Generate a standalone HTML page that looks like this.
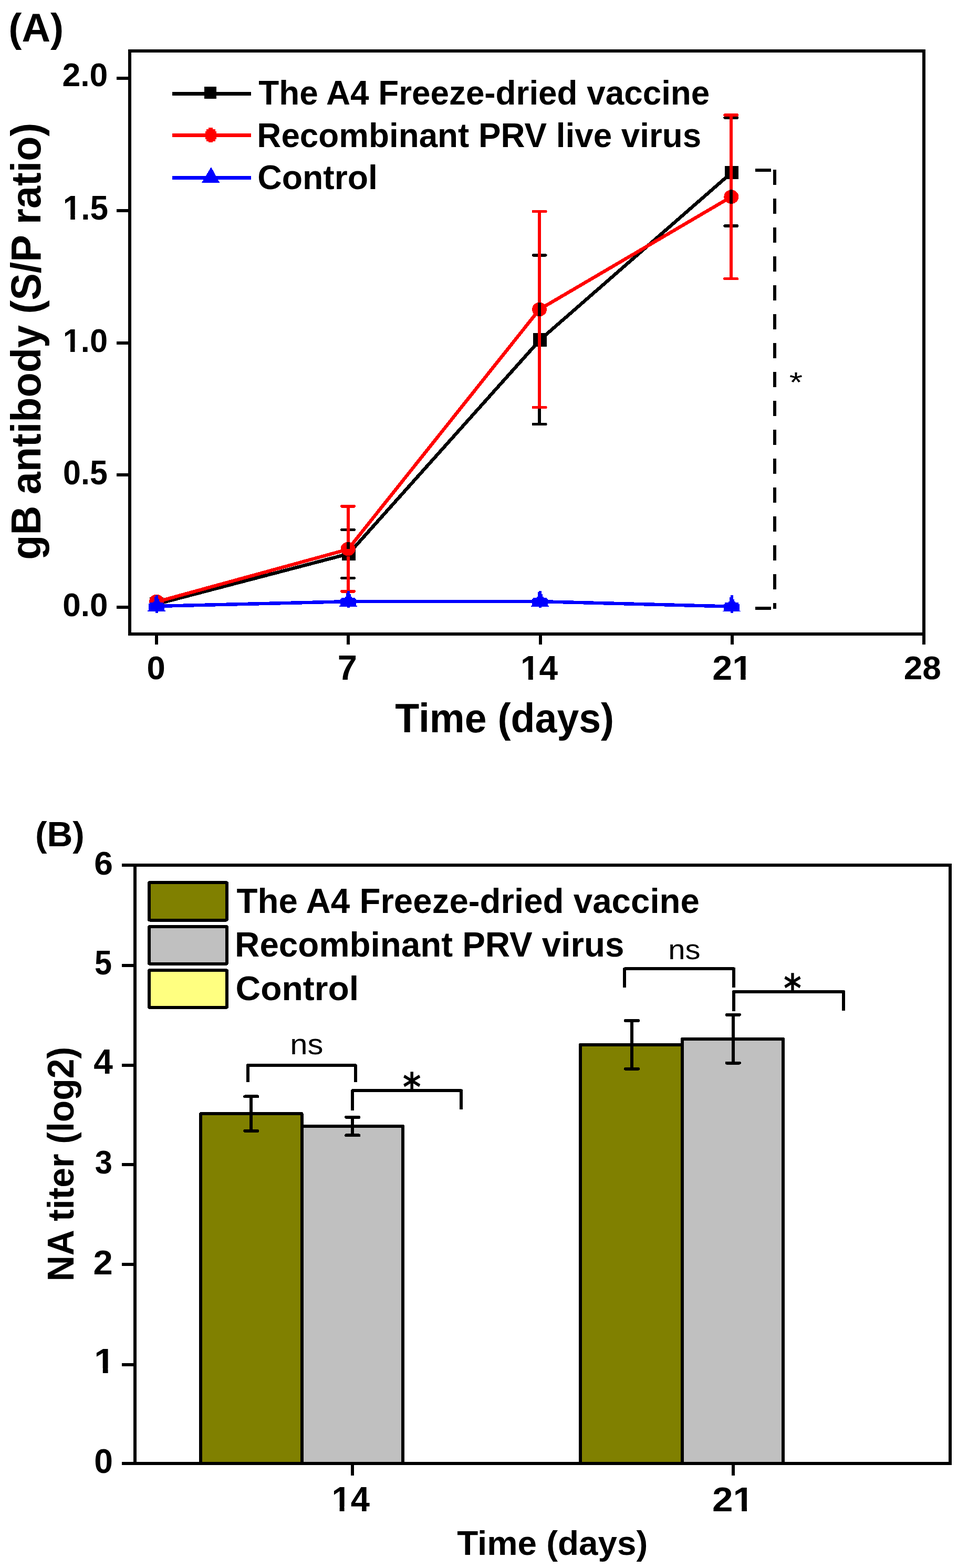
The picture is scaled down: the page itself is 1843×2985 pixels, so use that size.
<!DOCTYPE html>
<html><head><meta charset="utf-8"><title>gB antibody and NA titer</title>
<style>html,body{margin:0;padding:0;background:#fff;} svg{display:block;}</style>
</head><body>
<svg width="1843" height="2985" viewBox="0 0 1843 2985">
<rect width="1843" height="2985" fill="#fff"/>
<g shape-rendering="crispEdges">
<g fill="none" stroke-width="6.5" stroke-linejoin="round">
<polyline stroke="#000" points="298,1150 663.7,1054.3 1028.2,647 1392.9,328.6"/>
<polyline stroke="#f00" points="298,1145.8 662.6,1045.8 1027,589 1392.3,374.7"/>
<polyline stroke="#00f" points="298,1154 663,1145.1 1028,1145.1 1393,1154.6"/>
</g>
<rect x="285.2" y="1137.4" width="25.6" height="25.2" fill="#000"/>
<rect x="650.9" y="1041.7" width="25.6" height="25.2" fill="#000"/>
<rect x="1015.4" y="634.4" width="25.6" height="25.2" fill="#000"/>
<rect x="1380.1" y="316.0" width="25.6" height="25.2" fill="#000"/>
<ellipse cx="298" cy="1145" rx="14" ry="13.3" fill="#f00"/>
<ellipse cx="662.6" cy="1045" rx="14" ry="13.3" fill="#f00"/>
<ellipse cx="1027" cy="589" rx="14" ry="13.3" fill="#f00"/>
<ellipse cx="1392.3" cy="374.7" rx="14" ry="13.3" fill="#f00"/>
<polygon points="281.1,1163.8 281.1,1161.9 283.3,1161.9 283.3,1149.2 285.3,1149.2 285.3,1146.8 292.0,1146.8 292.0,1144.8 294.0,1144.8 294.0,1136.0 296.0,1136.0 296.0,1134.0 300.6,1134.0 300.6,1140.4 302.5,1140.4 302.5,1144.8 305.0,1144.8 305.0,1146.8 310.9,1146.8 310.9,1149.2 312.9,1149.2 312.9,1161.9 315.2,1161.9 315.2,1163.8" fill="#00f"/>
<polygon points="646.1,1154.8 646.1,1152.9 648.3,1152.9 648.3,1140.2 650.3,1140.2 650.3,1137.8 657.0,1137.8 657.0,1135.8 659.0,1135.8 659.0,1127.0 661.0,1127.0 661.0,1125.0 665.6,1125.0 665.6,1131.4 667.5,1131.4 667.5,1135.8 670.0,1135.8 670.0,1137.8 675.9,1137.8 675.9,1140.2 677.9,1140.2 677.9,1152.9 680.2,1152.9 680.2,1154.8" fill="#00f"/>
<polygon points="1011.1,1154.8 1011.1,1152.9 1013.3,1152.9 1013.3,1140.2 1015.3,1140.2 1015.3,1137.8 1022.0,1137.8 1022.0,1135.8 1024.0,1135.8 1024.0,1127.0 1026.0,1127.0 1026.0,1125.0 1030.6,1125.0 1030.6,1131.4 1032.5,1131.4 1032.5,1135.8 1035.0,1135.8 1035.0,1137.8 1040.9,1137.8 1040.9,1140.2 1042.9,1140.2 1042.9,1152.9 1045.2,1152.9 1045.2,1154.8" fill="#00f"/>
<polygon points="1376.1,1164.4 1376.1,1162.5 1378.3,1162.5 1378.3,1149.8 1380.3,1149.8 1380.3,1147.4 1387.0,1147.4 1387.0,1145.4 1389.0,1145.4 1389.0,1136.6 1391.0,1136.6 1391.0,1134.6 1395.6,1134.6 1395.6,1141.0 1397.5,1141.0 1397.5,1145.4 1400.0,1145.4 1400.0,1147.4 1405.9,1147.4 1405.9,1149.8 1407.9,1149.8 1407.9,1162.5 1410.2,1162.5 1410.2,1164.4" fill="#00f"/>
<line x1="662.5" y1="1008.5" x2="662.5" y2="1045" stroke="#000" stroke-width="6"/><line x1="662.5" y1="1064" x2="662.5" y2="1100.4" stroke="#000" stroke-width="6"/><line x1="650.8" y1="1008.5" x2="674.2" y2="1008.5" stroke="#000" stroke-width="5.5" stroke-linecap="round"/><line x1="650.8" y1="1100.4" x2="674.2" y2="1100.4" stroke="#000" stroke-width="5.5" stroke-linecap="round"/>
<line x1="1027.1" y1="485.8" x2="1027.1" y2="637" stroke="#000" stroke-width="6"/><line x1="1027.1" y1="657" x2="1027.1" y2="807.4" stroke="#000" stroke-width="6"/><line x1="1015.3" y1="485.8" x2="1038.8" y2="485.8" stroke="#000" stroke-width="5.5" stroke-linecap="round"/><line x1="1015.3" y1="807.4" x2="1038.8" y2="807.4" stroke="#000" stroke-width="5.5" stroke-linecap="round"/>
<line x1="1391.7" y1="224" x2="1391.7" y2="319" stroke="#000" stroke-width="6"/><line x1="1391.7" y1="338" x2="1391.7" y2="430" stroke="#000" stroke-width="6"/><line x1="1380.0" y1="224" x2="1403.5" y2="224" stroke="#000" stroke-width="5.5" stroke-linecap="round"/><line x1="1380.0" y1="430" x2="1403.5" y2="430" stroke="#000" stroke-width="5.5" stroke-linecap="round"/>
<line x1="662.5" y1="963.8" x2="662.5" y2="1032" stroke="#f00" stroke-width="6"/><line x1="662.5" y1="1058.5" x2="662.5" y2="1125.8" stroke="#f00" stroke-width="6"/><line x1="650.8" y1="963.8" x2="674.2" y2="963.8" stroke="#f00" stroke-width="5.5" stroke-linecap="round"/><line x1="650.8" y1="1125.8" x2="674.2" y2="1125.8" stroke="#f00" stroke-width="5.5" stroke-linecap="round"/>
<line x1="1027.1" y1="402.5" x2="1027.1" y2="575.7" stroke="#f00" stroke-width="6"/><line x1="1027.1" y1="602.3" x2="1027.1" y2="775.3" stroke="#f00" stroke-width="6"/><line x1="1015.3" y1="402.5" x2="1038.8" y2="402.5" stroke="#f00" stroke-width="5.5" stroke-linecap="round"/><line x1="1015.3" y1="775.3" x2="1038.8" y2="775.3" stroke="#f00" stroke-width="5.5" stroke-linecap="round"/>
<line x1="1391.7" y1="219" x2="1391.7" y2="361.4" stroke="#f00" stroke-width="6"/><line x1="1391.7" y1="388" x2="1391.7" y2="530.7" stroke="#f00" stroke-width="6"/><line x1="1380.0" y1="219" x2="1403.5" y2="219" stroke="#f00" stroke-width="5.5" stroke-linecap="round"/><line x1="1380.0" y1="530.7" x2="1403.5" y2="530.7" stroke="#f00" stroke-width="5.5" stroke-linecap="round"/>
<line x1="298" y1="1133" x2="298" y2="1167" stroke="#00f" stroke-width="5"/>
<line x1="663" y1="1125" x2="663" y2="1157" stroke="#00f" stroke-width="5"/>
<line x1="1028" y1="1125" x2="1028" y2="1157" stroke="#00f" stroke-width="5"/>
<line x1="1393" y1="1133" x2="1393" y2="1167" stroke="#00f" stroke-width="5"/>
<line x1="1475" y1="323" x2="1475" y2="1158.6" stroke="#000" stroke-width="6" stroke-dasharray="28.5 26.5"/>
<line x1="1438" y1="323.7" x2="1468" y2="323.7" stroke="#000" stroke-width="6"/>
<line x1="1438" y1="1157.8" x2="1467.6" y2="1157.8" stroke="#000" stroke-width="6"/>
<g stroke-width="6.4">
<line x1="327.5" y1="178.5" x2="477.5" y2="178.5" stroke="#000"/>
<line x1="327.5" y1="257.4" x2="477.5" y2="257.4" stroke="#f00"/>
<line x1="327.5" y1="338.4" x2="477.5" y2="338.4" stroke="#00f"/>
</g>
<rect x="388.6" y="164.6" width="23.4" height="23.4" fill="#000"/>
<polygon points="397.1,243.3 405.3,243.3 405.3,246 409.8,246 409.8,250.1 412,250.1 412,264.8 409.8,264.8 409.8,268.6 405.3,268.6 405.3,271.2 397.1,271.2 397.1,268.6 393,268.6 393,264.8 390.6,264.8 390.6,250.1 393,250.1 393,246 397.1,246" fill="#f00"/>
<polygon points="402,318 418.4,348 384,348" fill="#00f"/>
<g stroke="#000" stroke-width="6" fill="none">
<rect x="247" y="97" width="1512" height="1110"/>
<line x1="222" y1="148.7" x2="247" y2="148.7"/>
<line x1="222" y1="400.7" x2="247" y2="400.7"/>
<line x1="222" y1="652.6" x2="247" y2="652.6"/>
<line x1="222" y1="904" x2="247" y2="904"/>
<line x1="222" y1="1155.7" x2="247" y2="1155.7"/>
<line x1="298" y1="1207" x2="298" y2="1227"/>
<line x1="662.7" y1="1207" x2="662.7" y2="1227"/>
<line x1="1029.2" y1="1207" x2="1029.2" y2="1227"/>
<line x1="1393.6" y1="1207" x2="1393.6" y2="1227"/>
<line x1="1758.5" y1="1207" x2="1758.5" y2="1227"/>
</g>
<g stroke="#000" stroke-width="6" stroke-linejoin="round">
<rect x="382.2" y="2120.3" width="192.4" height="665.3" fill="#808000"/>
<rect x="574.6" y="2144" width="192.6" height="641.6" fill="#c0c0c0"/>
<rect x="1104.7" y="1988.8" width="194.6" height="796.8" fill="#808000"/>
<rect x="1299.3" y="1977.8" width="191.7" height="807.8" fill="#c0c0c0"/>
</g>
<line x1="478.3" y1="2087.4" x2="478.3" y2="2152.9" stroke="#000" stroke-width="6"/><line x1="466.3" y1="2087.4" x2="490.3" y2="2087.4" stroke="#000" stroke-width="6" stroke-linecap="round"/><line x1="466.3" y1="2152.9" x2="490.3" y2="2152.9" stroke="#000" stroke-width="6" stroke-linecap="round"/>
<line x1="671.2" y1="2126.7" x2="671.2" y2="2161.4" stroke="#000" stroke-width="6"/><line x1="659.2" y1="2126.7" x2="683.2" y2="2126.7" stroke="#000" stroke-width="6" stroke-linecap="round"/><line x1="659.2" y1="2161.4" x2="683.2" y2="2161.4" stroke="#000" stroke-width="6" stroke-linecap="round"/>
<line x1="1203.0" y1="1943" x2="1203.0" y2="2034.7" stroke="#000" stroke-width="6"/><line x1="1191.0" y1="1943" x2="1215.0" y2="1943" stroke="#000" stroke-width="6" stroke-linecap="round"/><line x1="1191.0" y1="2034.7" x2="1215.0" y2="2034.7" stroke="#000" stroke-width="6" stroke-linecap="round"/>
<line x1="1395.7" y1="1931.8" x2="1395.7" y2="2023.6" stroke="#000" stroke-width="6"/><line x1="1383.7" y1="1931.8" x2="1407.7" y2="1931.8" stroke="#000" stroke-width="6" stroke-linecap="round"/><line x1="1383.7" y1="2023.6" x2="1407.7" y2="2023.6" stroke="#000" stroke-width="6" stroke-linecap="round"/>
<g stroke="#000" stroke-width="6" fill="none" stroke-linejoin="round">
<path d="M471.6,2059.5 V2028.1 H676.8 V2059.5"/>
<path d="M671.2,2114.2 V2076.4 H878.4 V2112.1"/>
<path d="M1189.3,1880 V1844.4 H1397.3 V1880"/>
<path d="M1397.3,1925 V1887.8 H1605.9 V1923.5"/>
</g>
<g stroke="#000" stroke-width="6" stroke-linejoin="round">
<rect x="283.5" y="1680" width="148.8" height="71.7" rx="2" fill="#808000"/>
<rect x="283.5" y="1763.7" width="148.8" height="71.1" rx="2" fill="#c0c0c0"/>
<rect x="283.5" y="1847" width="148.8" height="71" rx="2" fill="#ffff80"/>
</g>
<g stroke="#000" stroke-width="6" fill="none">
<rect x="257.2" y="1647" width="1551.8" height="1138.6"/>
<line x1="232" y1="1647" x2="257" y2="1647"/>
<line x1="232" y1="1837.6" x2="257" y2="1837.6"/>
<line x1="232" y1="2028.3" x2="257" y2="2028.3"/>
<line x1="232" y1="2216.5" x2="257" y2="2216.5"/>
<line x1="232" y1="2407" x2="257" y2="2407"/>
<line x1="232" y1="2597.6" x2="257" y2="2597.6"/>
<line x1="232" y1="2785.6" x2="257" y2="2785.6"/>
<line x1="671" y1="2785.6" x2="671" y2="2808.6"/>
<line x1="1395.8" y1="2785.6" x2="1395.8" y2="2808.6"/>
</g>
</g>
<g fill="#000">
<defs><clipPath id="c2"><path clip-rule="evenodd" d="M-500,-500H3000V500H-500Z M-1.465,-13.184H23.340V8H-1.465Z M37.061,-13.184H56.592V8H37.061Z"/></clipPath><clipPath id="c3"><path clip-rule="evenodd" d="M-500,-500H3000V500H-500Z M-1.465,-13.184H23.340V8H-1.465Z M37.061,-13.184H56.592V8H37.061Z"/></clipPath><clipPath id="c8"><path clip-rule="evenodd" d="M-500,-500H3000V500H-500Z M-1.465,-13.184H23.340V8H-1.465Z M37.061,-13.184H56.592V8H37.061Z"/></clipPath><clipPath id="c9"><path clip-rule="evenodd" d="M-500,-500H3000V500H-500Z M54.150,-13.184H78.955V8H54.150Z M92.676,-13.184H112.207V8H92.676Z"/></clipPath><clipPath id="c23"><path clip-rule="evenodd" d="M-500,-500H3000V500H-500Z M-1.465,-13.184H23.340V8H-1.465Z M37.061,-13.184H56.592V8H37.061Z"/></clipPath><clipPath id="c25"><path clip-rule="evenodd" d="M-500,-500H3000V500H-500Z M-1.465,-13.184H23.340V8H-1.465Z M37.061,-13.184H56.592V8H37.061Z"/></clipPath><clipPath id="c26"><path clip-rule="evenodd" d="M-500,-500H3000V500H-500Z M54.150,-13.184H78.955V8H54.150Z M92.676,-13.184H112.207V8H92.676Z"/></clipPath></defs>
<text transform="matrix(0.7550 0.0000 0.0000 0.7689 16.3248 78.8000)" font-family="'Liberation Sans', Arial, sans-serif" font-size="100" font-weight="700">(A)</text>
<text transform="matrix(0.6258 0.0000 0.0000 0.6324 118.4227 164.1676)" font-family="'Liberation Sans', Arial, sans-serif" font-size="100" font-weight="700">2.0</text>
<text transform="matrix(0.6209 0.0000 0.0000 0.6443 119.7535 418.3557)" clip-path="url(#c2)" font-family="'Liberation Sans', Arial, sans-serif" font-size="100" font-weight="700">1.5</text>
<text transform="matrix(0.6141 0.0000 0.0000 0.6380 119.7016 670.3620)" clip-path="url(#c3)" font-family="'Liberation Sans', Arial, sans-serif" font-size="100" font-weight="700">1.0</text>
<text transform="matrix(0.6098 0.0000 0.0000 0.6394 120.0606 921.9606)" font-family="'Liberation Sans', Arial, sans-serif" font-size="100" font-weight="700">0.5</text>
<text transform="matrix(0.6198 0.0000 0.0000 0.6282 119.3206 1173.3718)" font-family="'Liberation Sans', Arial, sans-serif" font-size="100" font-weight="700">0.0</text>
<text transform="matrix(0.6340 0.0000 0.0000 0.6268 279.5638 1292.6732)" font-family="'Liberation Sans', Arial, sans-serif" font-size="100" font-weight="700">0</text>
<text transform="matrix(0.6702 0.0000 0.0000 0.6618 642.8191 1294.2618)" font-family="'Liberation Sans', Arial, sans-serif" font-size="100" font-weight="700">7</text>
<text transform="matrix(0.6404 0.0000 0.0000 0.6493 991.0173 1293.6000)" clip-path="url(#c8)" font-family="'Liberation Sans', Arial, sans-serif" font-size="100" font-weight="700">14</text>
<text transform="matrix(0.6833 0.0000 0.0000 0.6400 1356.2500 1293.8000)" clip-path="url(#c9)" font-family="'Liberation Sans', Arial, sans-serif" font-size="100" font-weight="700">21</text>
<text transform="matrix(0.6400 0.0000 0.0000 0.6338 1720.6800 1293.3662)" font-family="'Liberation Sans', Arial, sans-serif" font-size="100" font-weight="700">28</text>
<text transform="matrix(0.7526 0.0000 0.0000 0.7820 752.3474 1393.8000)" font-family="'Liberation Sans', Arial, sans-serif" font-size="100" font-weight="700">Time (days)</text>
<text transform="matrix(0.0000 -0.7733 0.7994 0.0000 76.8000 1065.6932)" font-family="'Liberation Sans', Arial, sans-serif" font-size="100" font-weight="700">gB antibody (S/P ratio)</text>
<text transform="matrix(0.6379 0.0000 0.0000 0.6497 492.2621 198.5000)" font-family="'Liberation Sans', Arial, sans-serif" font-size="100" font-weight="700">The A4 Freeze-dried vaccine</text>
<text transform="matrix(0.6378 0.0000 0.0000 0.6497 489.3354 279.8000)" font-family="'Liberation Sans', Arial, sans-serif" font-size="100" font-weight="700">Recombinant PRV live virus</text>
<text transform="matrix(0.6433 0.0000 0.0000 0.6425 490.3267 360.2000)" font-family="'Liberation Sans', Arial, sans-serif" font-size="100" font-weight="700">Control</text>
<text transform="matrix(0.6514 0.0000 0.0000 0.5286 1502.6971 745.5714)" font-family="'Liberation Sans', Arial, sans-serif" font-size="100" font-weight="400">*</text>
<text transform="matrix(0.6767 0.0000 0.0000 0.6584 66.9163 1610.5000)" font-family="'Liberation Sans', Arial, sans-serif" font-size="100" font-weight="700">(B)</text>
<text transform="matrix(0.6417 0.0000 0.0000 0.6380 179.3333 1664.5620)" font-family="'Liberation Sans', Arial, sans-serif" font-size="100" font-weight="700">6</text>
<text transform="matrix(0.5940 0.0000 0.0000 0.6400 180.1180 1855.1600)" font-family="'Liberation Sans', Arial, sans-serif" font-size="100" font-weight="700">5</text>
<text transform="matrix(0.6585 0.0000 0.0000 0.6652 178.1830 2044.4000)" font-family="'Liberation Sans', Arial, sans-serif" font-size="100" font-weight="700">4</text>
<text transform="matrix(0.5960 0.0000 0.0000 0.6380 180.7080 2233.9620)" font-family="'Liberation Sans', Arial, sans-serif" font-size="100" font-weight="700">3</text>
<text transform="matrix(0.6694 0.0000 0.0000 0.6543 177.5918 2425.8000)" font-family="'Liberation Sans', Arial, sans-serif" font-size="100" font-weight="700">2</text>
<text transform="matrix(0.7167 0.0000 0.0000 0.6652 179.0833 2613.8000)" clip-path="url(#c23)" font-family="'Liberation Sans', Arial, sans-serif" font-size="100" font-weight="700">1</text>
<text transform="matrix(0.6426 0.0000 0.0000 0.6437 179.1298 2803.7563)" font-family="'Liberation Sans', Arial, sans-serif" font-size="100" font-weight="700">0</text>
<text transform="matrix(0.6510 0.0000 0.0000 0.6754 631.4433 2877.0000)" clip-path="url(#c25)" font-family="'Liberation Sans', Arial, sans-serif" font-size="100" font-weight="700">14</text>
<text transform="matrix(0.7111 0.0000 0.0000 0.6543 1356.0667 2876.8000)" clip-path="url(#c26)" font-family="'Liberation Sans', Arial, sans-serif" font-size="100" font-weight="700">21</text>
<text transform="matrix(0.6555 0.0000 0.0000 0.6555 870.1445 2959.6000)" font-family="'Liberation Sans', Arial, sans-serif" font-size="100" font-weight="700">Time (days)</text>
<text transform="matrix(0.0000 -0.6792 0.6991 0.0000 140.0000 2439.2546)" font-family="'Liberation Sans', Arial, sans-serif" font-size="100" font-weight="700">NA titer (log2)</text>
<text transform="matrix(0.6546 0.0000 0.0000 0.6643 450.4454 1737.7000)" font-family="'Liberation Sans', Arial, sans-serif" font-size="100" font-weight="700">The A4 Freeze-dried vaccine</text>
<text transform="matrix(0.6550 0.0000 0.0000 0.6672 447.1147 1821.0000)" font-family="'Liberation Sans', Arial, sans-serif" font-size="100" font-weight="700">Recombinant PRV virus</text>
<text transform="matrix(0.6599 0.0000 0.0000 0.6570 448.5605 1903.6000)" font-family="'Liberation Sans', Arial, sans-serif" font-size="100" font-weight="700">Control</text>
<text transform="matrix(0.5989 0.0000 0.0000 0.5491 552.3074 2007.2509)" font-family="'Liberation Sans', Arial, sans-serif" font-size="100" font-weight="400">ns</text>
<text transform="matrix(0.5811 0.0000 0.0000 0.5436 1272.1326 1825.7564)" font-family="'Liberation Sans', Arial, sans-serif" font-size="100" font-weight="400">ns</text>
<text transform="matrix(0.6667 0.0000 0.0000 0.7478 766.6667 2095.9391)" font-family="'DejaVu Sans', 'Liberation Sans', sans-serif" font-size="100" font-weight="700">*</text>
<text transform="matrix(0.6479 0.0000 0.0000 0.7500 1492.0042 1907.5000)" font-family="'DejaVu Sans', 'Liberation Sans', sans-serif" font-size="100" font-weight="700">*</text>
</g>
</svg>
</body></html>
